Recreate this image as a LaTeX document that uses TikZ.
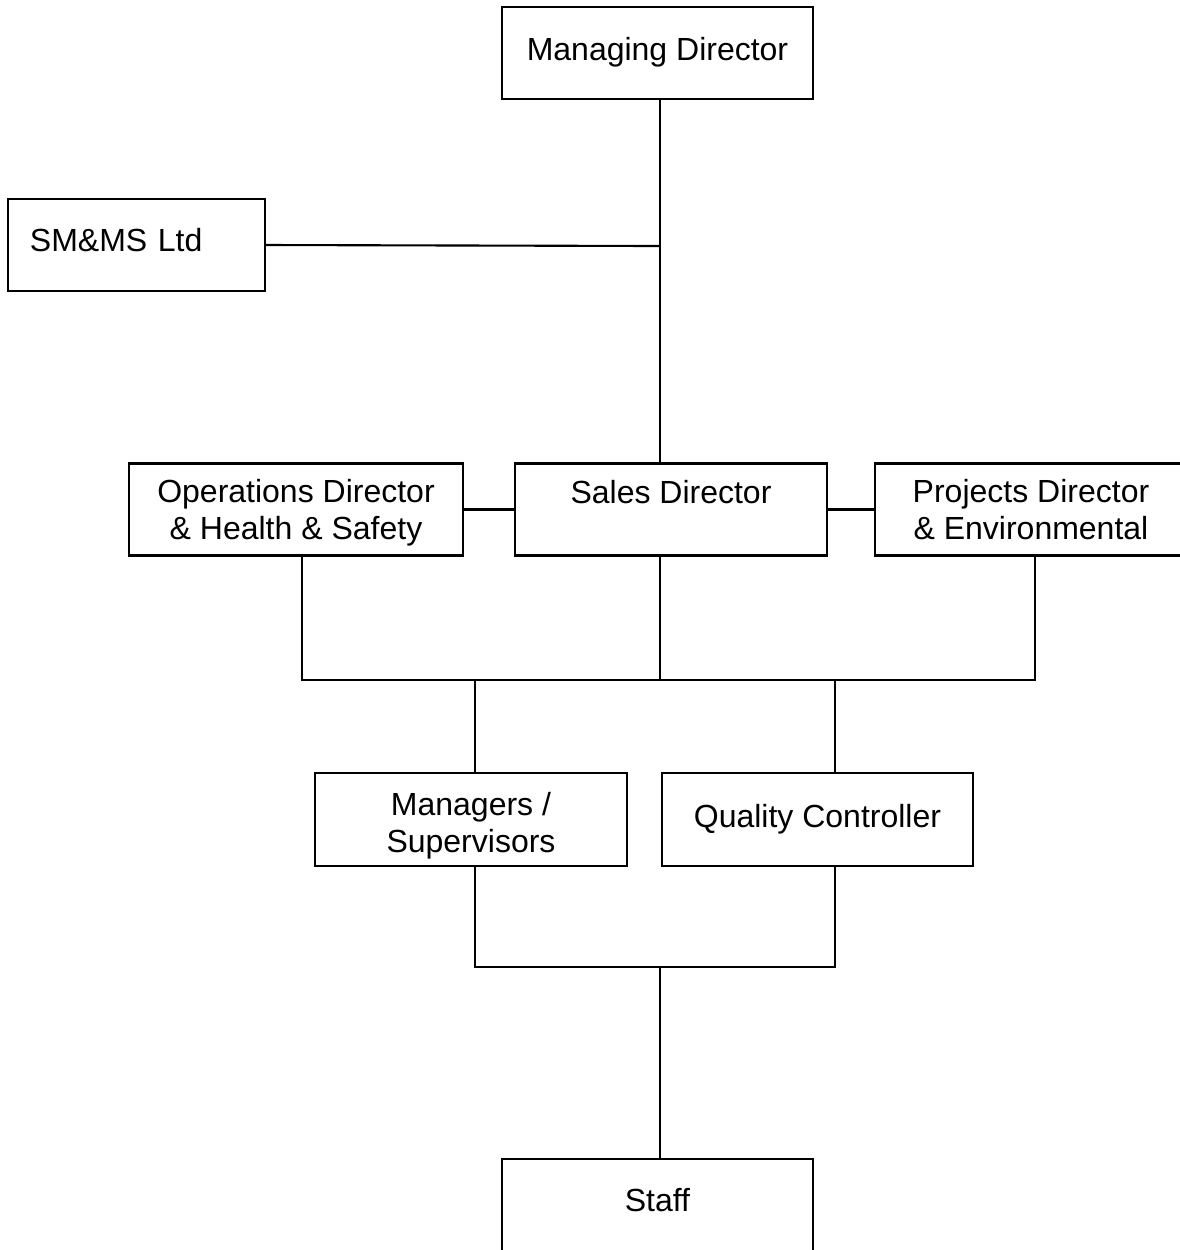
\documentclass[tikz,border=0pt]{standalone}
\usepackage{fontspec}
\setmainfont{Liberation Sans}
\usetikzlibrary{positioning}

\begin{document}
\begin{tikzpicture}[
  x=0.01cm, y=-0.01cm,
  post/.style={rectangle, draw, line width=0.6pt, minimum width=3.11cm, minimum height=0.92cm, align=center, inner sep=0pt, font=\fontsize{9.1pt}{10.5pt}\selectfont},
  raise/.style={text height=#1, text depth=0pt},
  link/.style={line width=0.6pt}
]
\useasboundingbox (0,0) rectangle (1180,1250);

% Top level
\node[post, raise=4pt] (MD) at (657.5,53) {Managing Director};
\node[post, raise=3.8pt, minimum width=2.57cm, text width=2.13cm, align=left] (SMMS) at (136.5,245) {SM\&MS Ltd};

% Directors
\node[post, raise=16.8pt, minimum width=3.34cm] (Ops) at (296,509.5) {Operations Director\\\& Health \& Safety};
\node[post, text height=0pt, text depth=3.5pt, minimum width=3.12cm] (Sales) at (671,509.5) {Sales Director};
\node[post, raise=16.8pt, minimum width=3.12cm] (Proj) at (1031,509.5) {Projects Director\\\& Environmental};

% Middle level
\node[post, raise=18.5pt, minimum width=3.12cm, minimum height=0.93cm] (Mgr) at (471,819.5) {Managers /\\Supervisors};
\node[post, minimum height=0.93cm] (QC) at (817.5,819.5) {Quality Controller};

% Bottom
\node[post, raise=3.8pt] (Staff) at (657.5,1205) {Staff};

% junction points
\coordinate (mdj) at (660,246);
\coordinate (opsj) at (302,680);
\coordinate (salesj) at (660,680);
\coordinate (projj) at (1035,680);
\coordinate (mgrj) at (475,680);
\coordinate (qcj) at (835,680);
\coordinate (mgrk) at (475,967);
\coordinate (qck) at (835,967);
\coordinate (staffk) at (660,967);

% MD -> Sales, SM&MS
\draw[link] (mdj |- MD.south) -- (mdj |- Sales.north);
\draw[link] (SMMS.east) -- (mdj);

% Directors side by side
\draw[link] (Ops.east) -- (Sales.west);
\draw[link] (Sales.east) -- (Proj.west);

% Directors -> bus
\draw[link] (opsj |- Ops.south) -- (opsj) -- (projj) -- (projj |- Proj.south);
\draw[link] (salesj |- Sales.south) -- (salesj);
\draw[link] (mgrj) -- (mgrj |- Mgr.north);
\draw[link] (qcj) -- (qcj |- QC.north);

% Middle -> Staff
\draw[link] (mgrk |- Mgr.south) -- (mgrk) -- (qck) -- (qck |- QC.south);
\draw[link] (staffk) -- (staffk |- Staff.north);

\end{tikzpicture}
\end{document}
